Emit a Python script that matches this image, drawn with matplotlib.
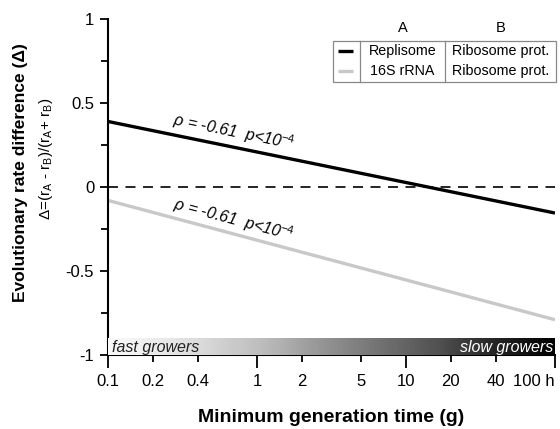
import numpy as np
import matplotlib
matplotlib.use("Agg")
import matplotlib.pyplot as plt
from matplotlib.patches import Rectangle

plt.rcParams['font.family'] = ['Liberation Sans', 'DejaVu Sans']
plt.rcParams['axes.unicode_minus'] = False
plt.rcParams['mathtext.fontset'] = 'custom'
plt.rcParams['mathtext.rm'] = 'Liberation Sans'
plt.rcParams['mathtext.it'] = 'Liberation Sans:italic'

# Data
gen_time = [0.1, 100]
replisome = [0.39, -0.155]
rrna = [-0.08, -0.79]
series_names = ["Replisome", "16S rRNA"]
partner_names = ["Ribosome prot.", "Ribosome prot."]
rho_text = "ρ = -0.61  p<10$^{-4}$"
xticks = [0.1, 0.2, 0.4, 1, 2, 5, 10, 20, 40, 100]
xticklabels = ["0.1", "0.2", "0.4", "1", "2", "5", "10", "20", "40", "100 h"]
yticks = [-1, -0.5, 0, 0.5, 1]
yticklabels = ["-1", "-0.5", "0", "0.5", "1"]

fig = plt.figure(figsize=(5.6, 4.29), dpi=100)
ax = fig.add_axes([0.193, 0.1725, 0.798, 0.7832])
ax.set_xscale('log')
ax.set_xlim(0.1, 100)
ax.set_ylim(-1, 1)

ax.axhline(0, color='black', lw=1.2, ls=(0, (6, 4.5)), zorder=1)
ax.plot(gen_time, rrna, color='#c8c8c8', lw=2.4, solid_capstyle='butt', zorder=2)
ax.plot(gen_time, replisome, color='black', lw=2.4, solid_capstyle='butt', zorder=3)


def line_angle(ys):
    p = ax.transData.transform(np.column_stack([gen_time, ys]))
    return np.degrees(np.arctan2(p[1, 1] - p[0, 1], p[1, 0] - p[0, 0]))


xa = 0.7
for ys, off in ((replisome, 0.09), (rrna, 0.085)):
    ya = np.interp(np.log10(xa), np.log10(gen_time), ys) + off
    ax.text(xa, ya, rho_text, rotation=line_angle(ys), ha='center', va='center',
            fontsize=11.5, style='italic', rotation_mode='anchor')

# spines / ticks
for s in ['top', 'right']:
    ax.spines[s].set_visible(False)
for s in ['left', 'bottom']:
    ax.spines[s].set_linewidth(1.5)

ax.set_xticks(xticks)
ax.set_xticklabels(xticklabels)
ax.xaxis.set_minor_locator(matplotlib.ticker.NullLocator())
ax.set_yticks(yticks)
ax.set_yticklabels(yticklabels)
ax.set_yticks([-0.75, -0.25, 0.25, 0.75], minor=True)
ax.tick_params(axis='y', which='major', length=6, width=1.3, labelsize=12, pad=4)
ax.tick_params(axis='y', which='minor', length=5, width=1.3)
ax.tick_params(axis='x', which='major', length=6, width=1.3, labelsize=12, pad=8)
for lab in ax.get_xticklabels():
    if lab.get_text() == "100 h":
        lab.set_horizontalalignment('right')
for t, v in zip(ax.xaxis.get_major_ticks(), xticks):
    if v in (0.1, 1, 10, 100):
        t.tick1line.set_markersize(9)
    else:
        t.tick1line.set_markersize(5)

ax.set_xlabel("Minimum generation time (g)", fontsize=14, fontweight='bold', labelpad=14)
fig.text(0.036, 0.598, "Evolutionary rate difference (Δ)", rotation=90, fontsize=12.5,
         fontweight='bold', ha='center', va='center')
fig.text(0.082, 0.63, "Δ=(r$_\\mathrm{A}$ - r$_\\mathrm{B}$)/(r$_\\mathrm{A}$+ r$_\\mathrm{B}$)",
         rotation=90, fontsize=11, ha='center', va='center')

# gradient bar
bar = ax.inset_axes([0.0, 0.0, 1.0, 0.05])
grad = np.linspace(0.0, 1.0, 256).reshape(1, -1)
bar.imshow(grad, aspect='auto', cmap='Greys', vmin=-0.05, vmax=1.0,
           extent=[0, 1, 0, 1])
bar.set_axis_off()
bar.text(0.008, 0.45, "fast growers", style='italic', fontsize=11.5, color='#222222',
         ha='left', va='center', transform=bar.transAxes)
bar.text(0.996, 0.45, "slow growers", style='italic', fontsize=11.5, color='white',
         ha='right', va='center', transform=bar.transAxes)

# table-like legend
x0, x1, x2, x3 = 0.503, 0.564, 0.754, 1.002
yb, yt = 0.812, 0.9345
ax.add_patch(Rectangle((x0, yb), x3 - x0, yt - yb, transform=ax.transAxes,
                       fill=False, edgecolor='#888888', lw=0.9, clip_on=False, zorder=5))
for xs in (x1, x2):
    ax.plot([xs, xs], [yb, yt], transform=ax.transAxes, color='#888888', lw=0.9,
            clip_on=False, zorder=5)
rows_y = [0.905, 0.845]
colors = ['black', '#c8c8c8']
for yy, c, nm, pn in zip(rows_y, colors, series_names, partner_names):
    ax.plot([0.515, 0.548], [yy, yy], transform=ax.transAxes, color=c, lw=2.4,
            solid_capstyle='butt', clip_on=False, zorder=6)
    ax.text((x1 + x2) / 2, yy, nm, transform=ax.transAxes, ha='center', va='center',
            fontsize=10.3)
    ax.text((x2 + x3) / 2, yy, pn, transform=ax.transAxes, ha='center', va='center',
            fontsize=10.3)
ax.text((x1 + x2) / 2, 0.972, "A", transform=ax.transAxes, ha='center', va='center', fontsize=10.5)
ax.text((x2 + x3) / 2, 0.972, "B", transform=ax.transAxes, ha='center', va='center', fontsize=10.5)

fig.savefig("out.png", dpi=100)
